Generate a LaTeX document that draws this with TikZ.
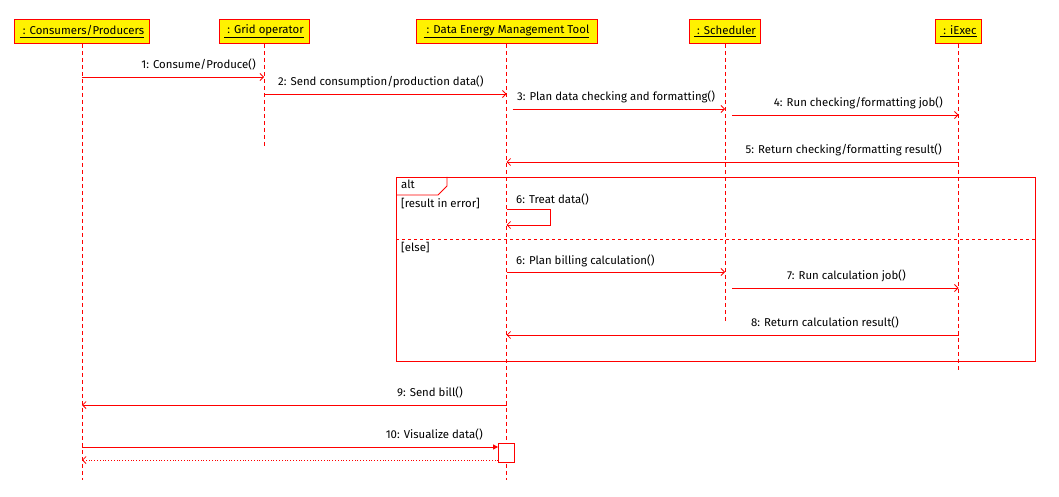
\documentclass[tikz,border=0pt]{standalone}
\usepackage{fontspec}
\setmainfont{Fira Sans}
\usetikzlibrary{arrows.meta}
\usetikzlibrary{positioning}

\begin{document}
\begin{tikzpicture}[x=1pt, y=-1pt, font=\fontsize{11.4}{13}\selectfont,
    obj/.style={draw=red, fill=yellow, line width=0.9pt, inner sep=0pt, minimum height=24pt},
    life/.style={draw=red, line width=0.8pt, dash pattern=on 4pt off 3pt},
    msg/.style={draw=red, line width=0.8pt, -{Straight Barb[length=3.5pt,width=7pt]}},
    call/.style={draw=red, line width=0.8pt, -{Triangle[length=5pt,width=5pt]}},
    ret/.style={draw=red, line width=0.8pt, dotted, -{Straight Barb[length=3.5pt,width=7pt]}},
    frm/.style={draw=red, line width=0.8pt},
    lbl/.style={inner sep=0pt}]
    \useasboundingbox (0,0) rectangle (1059,497);

    \node[obj, minimum width=135pt] (cp) at (82,31.5) {\underline{\ : Consumers/Producers}};
    \node[obj, minimum width=90pt] (go) at (264,31.5) {\underline{\ : Grid operator}};
    \node[obj, minimum width=181pt] (demt) at (506.5,31.5) {\underline{\ : Data Energy Management Tool}};
    \node[obj, minimum width=71pt] (sch) at (725,31.5) {\underline{\ : Scheduler}};
    \node[obj, minimum width=46pt] (iex) at (958.5,31.5) {\underline{\ : iExec}};

    \foreach \n/\y in {e1/480, e2/147, e3/322, e4/370,
                       m1/77, m2/94, m3/109, m4/115, m5/162,
                       t1/209, t2/225, m6/272, m7/288, m8/335,
                       m9/405, m10/447, r10/460}
        \coordinate (\n) at (0,\y);

    \draw[life] (cp.south) -- (cp.south |- e1);
    \draw[life] (go.south) -- (go.south |- e2);
    \draw[life] (demt.south) -- (demt.south |- e1);
    \draw[life] (sch.south) -- (sch.south |- e3);
    \draw[life] (iex.south) -- (iex.south |- e4);

    \draw[frm] (396,177) rectangle (1035,361);
    \draw[frm] (396,195) -- (438,195) -- (447,186) -- (447,177);
    \draw[frm, dashed] (396,239) -- (1035,239);
    \node[lbl, anchor=base west] (alt) at (401,188) {alt};
    \node[lbl, anchor=base west] (g1) at (401,207) {[result in error]};
    \node[lbl, anchor=base west] (g2) at (401,251.5) {[else]};

    \draw[msg] (cp |- m1) -- (go |- m1);
    \draw[msg] (go |- m2) -- (demt |- m2);
    \draw[msg] ([xshift=6pt]demt |- m3) -- (sch |- m3);
    \draw[msg] ([xshift=7pt]sch |- m4) -- (iex |- m4);
    \draw[msg] (iex |- m5) -- (demt |- m5);
    \draw[msg] (demt |- t1) -- ++(44,0) |- (demt |- t2);
    \draw[msg] (demt |- m6) -- (sch |- m6);
    \draw[msg] ([xshift=7pt]sch |- m7) -- (iex |- m7);
    \draw[msg] (iex |- m8) -- (demt |- m8);
    \draw[msg] (demt |- m9) -- (cp |- m9);

    \node[draw=red, fill=white, line width=0.8pt, minimum width=16pt, minimum height=19pt] (ab) at (506.5,453) {};
    \draw[call] (cp |- m10) -- (ab.west |- m10);
    \draw[ret] (ab.west |- r10) -- (cp |- r10);

    \node[lbl, anchor=base east] (l1) at (256,69) {1: Consume/Produce()};
    \node[lbl, anchor=base west] (l2) at (278,85.5) {2: Send consumption/production data()};
    \node[lbl, anchor=base west] (l3) at (517,100.5) {3: Plan data checking and formatting()};
    \node[lbl, anchor=base east] (l4) at (943,106.5) {4: Run checking/formatting job()};
    \node[lbl, anchor=base east] (l5) at (942,153.5) {5: Return checking/formatting result()};
    \node[lbl, anchor=base west] (l6) at (516,203) {6: Treat data()};
    \node[lbl, anchor=base west] (l6b) at (516,264) {6: Plan billing calculation()};
    \node[lbl, anchor=base east] (l7) at (906,279.5) {7: Run calculation job()};
    \node[lbl, anchor=base east] (l8) at (899,326.5) {8: Return calculation result()};
    \node[lbl, anchor=base east] (l9) at (463,396) {9: Send bill()};
    \node[lbl, anchor=base east] (l10) at (483,438) {10: Visualize data()};
\end{tikzpicture}
\end{document}
